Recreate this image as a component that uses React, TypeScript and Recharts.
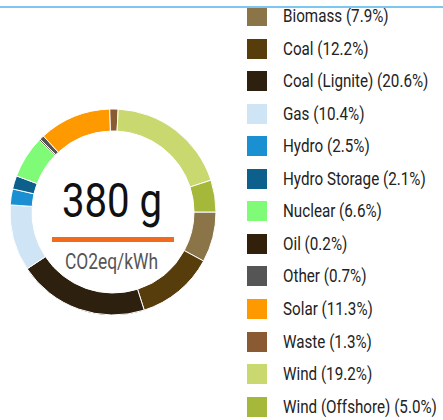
import React from "react";
import { PieChart, Pie, Cell, Legend } from "recharts";

const categories = [
  "Biomass",
  "Coal",
  "Coal (Lignite)",
  "Gas",
  "Hydro",
  "Hydro Storage",
  "Nuclear",
  "Oil",
  "Other",
  "Solar",
  "Waste",
  "Wind",
  "Wind (Offshore)",
];
const shares = [7.9, 12.2, 20.6, 10.4, 2.5, 2.1, 6.6, 0.2, 0.7, 11.3, 1.3, 19.2, 5.0];
const colors = [
  "#8b7548",
  "#573d0c",
  "#2e200e",
  "#cfe4f4",
  "#1a8fd2",
  "#0d5f8c",
  "#80fb78",
  "#33200a",
  "#555555",
  "#ff9900",
  "#8a5a32",
  "#c9d86f",
  "#a6b839",
];
const intensityLabel = "380 g";
const unitLabel = "CO2eq/kWh";

const data = categories.map((name, i) => ({ name, value: shares[i] }));

const FONT = 'Roboto, "Noto Sans", sans-serif';

function LegendList() {
  return (
    <div style={{ position: "relative", width: 196, height: 420, fontFamily: FONT }}>
      {categories.map((name, i) => {
        const cy = 16 + i * 32.55;
        return (
          <div key={name}>
            <div
              style={{
                position: "absolute",
                left: 0,
                top: cy - 10,
                width: 20,
                height: 20,
                background: colors[i],
              }}
            />
            <div
              style={{
                position: "absolute",
                left: 36,
                top: cy - 12,
                height: 24,
                lineHeight: "24px",
                fontSize: 19,
                color: "#222",
                whiteSpace: "nowrap",
                transform: "scaleX(0.8)",
                transformOrigin: "0 50%",
              }}
            >
              {`${name} (${shares[i].toFixed(1)}%)`}
            </div>
          </div>
        );
      })}
    </div>
  );
}

export default function App() {
  return (
    <div style={{ position: "relative", width: 443, height: 420, background: "#fff", overflow: "hidden" }}>
      <style>{"body{margin:0}"}</style>
      <PieChart width={443} height={420} margin={{ top: 0, right: 0, bottom: 0, left: 0 }}>
        <Pie
          data={data}
          dataKey="value"
          nameKey="name"
          cx={113}
          cy={212}
          innerRadius={81}
          outerRadius={103}
          startAngle={0}
          endAngle={-360}
          stroke="#ffffff"
          strokeWidth={1}
          isAnimationActive={false}
        >
          {data.map((d, i) => (
            <Cell key={d.name} fill={colors[i]} />
          ))}
        </Pie>
        <Legend
          layout="vertical"
          align="right"
          verticalAlign="top"
          wrapperStyle={{ left: 247, top: 0, width: 196, height: 420 }}
          content={() => <LegendList />}
        />
      </PieChart>
      <svg
        width={240}
        height={420}
        style={{ position: "absolute", left: 0, top: 0, pointerEvents: "none" }}
      >
        <g transform="translate(112,217) scale(0.82,1)">
          <text x={0} y={0} textAnchor="middle" fontFamily={FONT} fontSize={49} fill="#111">
            {intensityLabel}
          </text>
        </g>
        <rect x={52} y={237} width={122} height={5} fill="#f26b1d" />
        <g transform="translate(111.5,269) scale(0.79,1)">
          <text x={0} y={0} textAnchor="middle" fontFamily={FONT} fontSize={22} fill="#555">
            {unitLabel}
          </text>
        </g>
      </svg>
      <div
        style={{
          position: "absolute",
          left: 0,
          top: 5.5,
          width: 443,
          height: 2,
          background: "#7cc6ef",
        }}
      />
    </div>
  );
}
